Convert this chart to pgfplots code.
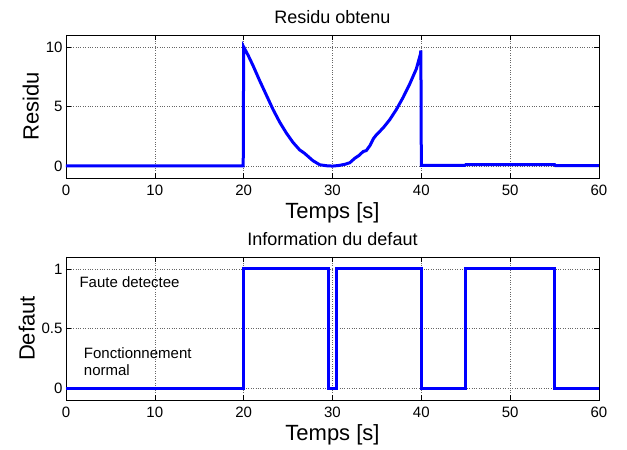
\documentclass[border=0pt]{standalone}
\usepackage{pgfplots}
\pgfplotsset{compat=1.18}
\usepackage{fontspec}
\setmainfont{Liberation Sans}

\pgfplotsset{
  matlab/.style={
    scale only axis,
    width=533pt, height=143pt,
    xmin=0, xmax=60,
    xtick={0,10,...,60},
    tick align=inside,
    major tick length=5pt,
    grid=major,
    major grid style={black!60, dotted, line width=0.6pt},
    axis line style={line width=0.7pt},
    tick style={black, line width=0.6pt},
    ticklabel style={font=\fontsize{15}{17}\selectfont},
    xticklabel style={yshift=-3pt},
    /pgf/number format/assume math mode=true,
    label style={font=\fontsize{22}{24}\selectfont},
    title style={font=\fontsize{18}{20}\selectfont, yshift=2pt},
    xlabel={Temps [s]},
    xlabel style={yshift=-1pt},
  }
}

\begin{document}
\begin{tikzpicture}
\path (-66pt,-50pt) rectangle (561pt,400pt);

% haut : residu
\begin{axis}[matlab, at={(0,222pt)},
  ymin=-1, ymax=11, ytick={0,5,10},
  ylabel={Residu}, title={Residu obtenu}]
\addplot[blue, line width=3pt] coordinates {
(0,0.02) (10,0.02) (19.95,0.02) (20,10.0)
(20.5,9.3) (21.05,8.44) (21.8,7.17) (22.56,5.95) (23.3,4.76) (24.06,3.68)
(24.8,2.78) (25.56,1.98) (26.3,1.36) (26.8,1.1) (27.07,0.93) (27.8,0.45)
(28.57,0.11) (29.3,0.03) (30,0.0) (30.7,0.05) (31.4,0.15) (31.95,0.28)
(32.5,0.65) (33.0,0.9) (33.45,1.22) (33.8,1.3) (34.2,1.7) (34.6,2.3)
(34.95,2.63) (35.7,3.2) (36.45,3.9) (37.2,4.76) (37.94,5.75) (38.7,6.9)
(39.44,8.16) (39.9,9.4) (39.95,9.7) (40,0.05)
(44.9,0.05) (45,0.12) (55,0.12) (55.1,0.03) (60,0.03)
};
\end{axis}

% bas : information du defaut
\begin{axis}[matlab, at={(0,0)},
  ymin=-0.1, ymax=1.1, ytick={0,0.5,1},
  ylabel={Defaut}, title={Information du defaut}]
\addplot[blue, line width=3pt] coordinates {
(0,0) (20,0) (20,1) (29.6,1) (29.6,0) (30.5,0) (30.5,1)
(40,1) (40,0) (45,0) (45,1) (55,1) (55,0) (60,0)
};
\node[anchor=west, inner sep=0pt, font=\fontsize{15}{17}\selectfont] at (axis cs:1.5,0.89) {Faute detectee};
\node[anchor=west, inner sep=0pt, align=left, font=\fontsize{15}{17}\selectfont] at (axis cs:2.0,0.225) {Fonctionnement\\normal};
\end{axis}
\end{tikzpicture}
\end{document}
